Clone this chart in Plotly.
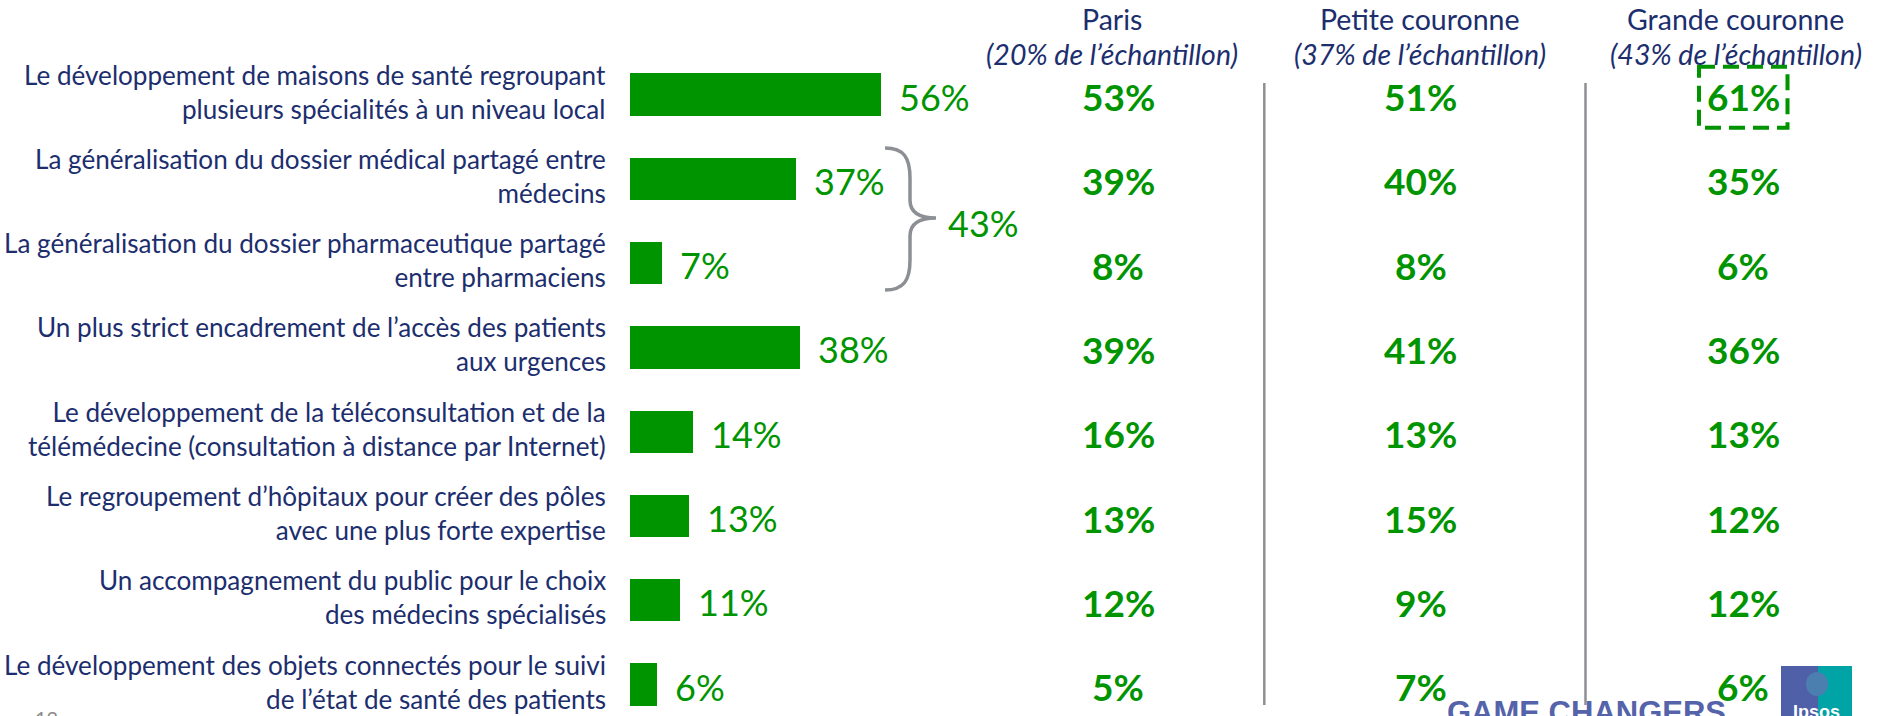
import plotly.graph_objects as go

W, H = 1879, 716

categories = [
    "Le développement de maisons de santé regroupant<br>plusieurs spécialités à un niveau local",
    "La généralisation du dossier médical partagé entre<br>médecins",
    "La généralisation du dossier pharmaceutique partagé<br>entre pharmaciens",
    "Un plus strict encadrement de l’accès des patients<br>aux urgences",
    "Le développement de la téléconsultation et de la<br>télémédecine (consultation à distance par Internet)",
    "Le regroupement d’hôpitaux pour créer des pôles<br>avec une plus forte expertise",
    "Un accompagnement du public pour le choix<br>des médecins spécialisés",
    "Le développement des objets connectés pour le suivi<br>de l’état de santé des patients",
]
total = [56, 37, 7, 38, 14, 13, 11, 6]
paris = [53, 39, 8, 39, 16, 13, 12, 5]
petite = [51, 40, 8, 41, 13, 15, 9, 7]
grande = [61, 35, 6, 36, 13, 12, 12, 6]
col_titles = ["Paris", "Petite couronne", "Grande couronne"]
col_subtitles = ["(20% de l’échantillon)", "(37% de l’échantillon)", "(43% de l’échantillon)"]
group_total = 43  # médical + pharmaceutique
page_number = "12"

GREEN = "#009400"
NAVY = "#1C2E6E"
GRAY = "#8C8F94"
FONT = "Lato"

# axis mapping (pixels)
X0_PX, PX_PER_PCT = 630.4, 4.47
ROW0_PX, ROW_PX = 94.5, 84.3
xr = [-X0_PX / PX_PER_PCT, (W - X0_PX) / PX_PER_PCT]
yr = [(H - ROW0_PX) / ROW_PX, -ROW0_PX / ROW_PX]

rows = list(range(len(categories)))

fig = go.Figure()
fig.add_trace(go.Bar(
    x=total, y=rows, orientation="h", width=0.502,
    marker=dict(color=GREEN, line=dict(width=0)),
    hoverinfo="skip",
))

annotations = []
# category labels
for i, c in enumerate(categories):
    annotations.append(dict(
        x=608 / W, xref="paper", y=i, yref="y", text=c, showarrow=False,
        xanchor="right", yanchor="middle", align="right", yshift=3,
        font=dict(family=FONT, size=26.1, color=NAVY),
    ))
# bar values
for i, v in enumerate(total):
    annotations.append(dict(
        x=v, xref="x", y=i, yref="y", text=f"{v}%", showarrow=False,
        xanchor="left", yanchor="middle", xshift=16, yshift=-2,
        font=dict(family=FONT, size=36, color=GREEN),
    ))
# column values
col_x_px = [1118, 1420.5, 1743]
head_x_px = [1112, 1419.5, 1735.5]
for ci, vals in enumerate([paris, petite, grande]):
    for i, v in enumerate(vals):
        annotations.append(dict(
            x=col_x_px[ci] / W, xref="paper", y=i, yref="y", text=f"<b>{v}%</b>",
            showarrow=False, xanchor="center", yanchor="middle", yshift=-2,
            font=dict(family=FONT, size=37, color=GREEN),
        ))
    annotations.append(dict(
        x=head_x_px[ci] / W, xref="paper", y=1 - 19 / H, yref="paper",
        text=col_titles[ci], showarrow=False, xanchor="center", yanchor="middle",
        font=dict(family=FONT, size=28.5, color=NAVY),
    ))
    annotations.append(dict(
        x=head_x_px[ci] / W, xref="paper", y=1 - 54 / H, yref="paper",
        text=f"<i>{col_subtitles[ci]}</i>", showarrow=False, xanchor="center",
        yanchor="middle", font=dict(family=FONT, size=28.5, color=NAVY),
    ))
# group total
annotations.append(dict(
    x=(946 - X0_PX) / PX_PER_PCT, xref="x", y=1.5, yref="y", text=f"{group_total}%",
    showarrow=False, xanchor="left", yanchor="middle", yshift=-2,
    font=dict(family=FONT, size=36, color=GREEN),
))
# footer
annotations.append(dict(
    x=33 / W, xref="paper", y=1 - 704 / H, yref="paper", text=page_number,
    showarrow=False, xanchor="left", yanchor="top",
    font=dict(family=FONT, size=20, color="#8C8C8C"),
))
annotations.append(dict(
    x=1445 / W, xref="paper", y=1 - 693 / H, yref="paper", text="<b>GAME CHANGERS</b>",
    showarrow=False, xanchor="left", yanchor="top",
    font=dict(family="Liberation Sans", size=31, color="#5563AA"),
))
annotations.append(dict(
    x=1816 / W, xref="paper", y=1 - 700 / H, yref="paper", text="<b>Ipsos</b>",
    showarrow=False, xanchor="center", yanchor="top",
    font=dict(family="Liberation Sans", size=18, color="white"),
))


def px(xp, yp):
    return f"{xp / W:.5f},{1 - yp / H:.5f}"


shapes = []
# separators
for sx in [1264.3, 1585.5]:
    shapes.append(dict(type="line", xref="paper", yref="paper",
                       x0=sx / W, x1=sx / W, y0=1 - 83 / H, y1=1 - 705 / H,
                       line=dict(color=GRAY, width=2.5), layer="below"))
# brace
brace = ("M " + px(885, 148) + " C " + px(904, 148) + " " + px(910, 158) + " " + px(910, 178)
         + " L " + px(910, 200) + " C " + px(910, 212) + " " + px(918, 218) + " " + px(936, 218)
         + " C " + px(918, 218) + " " + px(910, 224) + " " + px(910, 236)
         + " L " + px(910, 260) + " C " + px(910, 280) + " " + px(904, 290) + " " + px(885, 290))
shapes.append(dict(type="path", xref="paper", yref="paper", path=brace,
                   line=dict(color=GRAY, width=3.5)))
# highlight dashed box
shapes.append(dict(type="rect", xref="paper", yref="paper",
                   x0=1699 / W, x1=1787.5 / W, y0=1 - 66.7 / H, y1=1 - 127.7 / H,
                   line=dict(color=GREEN, width=4, dash="16px,8px")))
# Ipsos logo
shapes.append(dict(type="rect", xref="paper", yref="paper", x0=1781 / W, x1=1818 / W,
                   y0=1 - 666 / H, y1=0, fillcolor="#5060A8", line=dict(width=0)))
shapes.append(dict(type="rect", xref="paper", yref="paper", x0=1818 / W, x1=1852 / W,
                   y0=1 - 666 / H, y1=0, fillcolor="#00A3A6", line=dict(width=0)))
shapes.append(dict(type="circle", xref="paper", yref="paper", x0=1806 / W, x1=1828 / W,
                   y0=1 - 672 / H, y1=1 - 696 / H, fillcolor="#4A7FB0", line=dict(width=0)))

fig.update_layout(
    width=W, height=H, margin=dict(l=0, r=0, t=0, b=0),
    paper_bgcolor="white", plot_bgcolor="white", showlegend=False,
    xaxis=dict(range=xr, visible=False, fixedrange=True),
    yaxis=dict(range=yr, visible=False, fixedrange=True),
    annotations=annotations, shapes=shapes, bargap=0,
)
fig.write_html(
    "out.html",
    config={"displayModeBar": False, "staticPlot": True},
    post_script="document.body.style.margin='0';document.body.style.overflow='hidden';",
)
